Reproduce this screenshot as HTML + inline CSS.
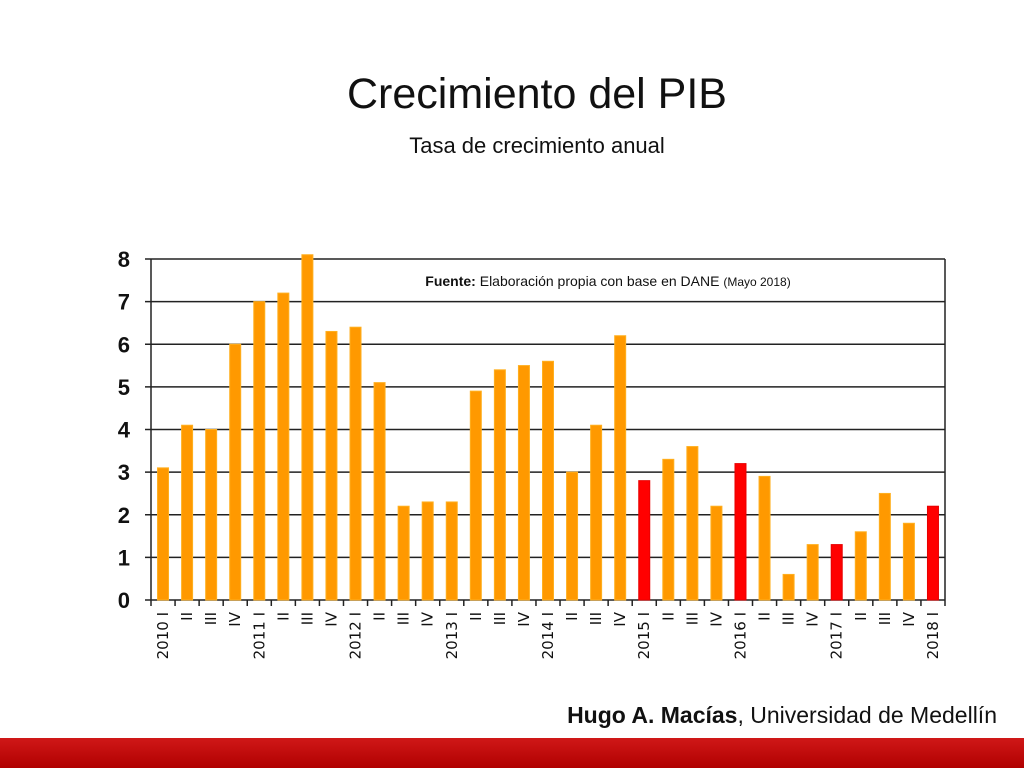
<!DOCTYPE html>
<html><head><meta charset="utf-8">
<style>
body{margin:0;width:1024px;height:768px;background:#fff;overflow:hidden;position:relative;font-family:"Liberation Sans",sans-serif}
.t{position:absolute;left:0;width:1074px;text-align:center;color:#111}
</style></head><body>
<div class="t" style="top:70px;font-size:43px;">Crecimiento del PIB</div>
<div class="t" style="top:133px;font-size:22px;">Tasa de crecimiento anual</div>
<svg id="c" width="1024" height="768" style="position:absolute;left:0;top:0"></svg>
<div style="position:absolute;right:27px;top:702px;font-size:23px;color:#111"><b>Hugo A. Macías</b>, Universidad de Medellín</div>
<div style="position:absolute;left:0;top:738px;width:1024px;height:30px;background:linear-gradient(#d01818,#b00000)"></div>
<script>
const categories=["2010 I","II","III","IV","2011 I","II","III","IV","2012 I","II","III","IV","2013 I","II","III","IV","2014 I","II","III","IV","2015 I","II","III","IV","2016 I","II","III","IV","2017 I","II","III","IV","2018 I"];
const values=[3.1,4.1,4.0,6.0,7.0,7.2,8.1,6.3,6.4,5.1,2.2,2.3,2.3,4.9,5.4,5.5,5.6,3.0,4.1,6.2,2.8,3.3,3.6,2.2,3.2,2.9,0.6,1.3,1.3,1.6,2.5,1.8,2.2];
const highlighted=[20,24,28,32];
const yTicks=[0,1,2,3,4,5,6,7,8];
const NS="http://www.w3.org/2000/svg",svg=document.getElementById('c');
const X0=151,X1=945,Y0=600,Y8=259;
const bw=(X1-X0)/categories.length;
const y=v=>Y0-(v/8)*(Y0-Y8);
const xc=i=>X0+bw*(i+0.5);
function mk(t,a){const e=document.createElementNS(NS,t);for(const k in a)e.setAttribute(k,a[k]);svg.appendChild(e);return e;}
yTicks.forEach(v=>{
 const g=mk('line',{x1:X0-6,x2:X1,y1:y(v),y2:y(v),stroke:'#222','stroke-width':1.5});
 
 
 const t=mk('text',{x:130,y:y(v)+8,'text-anchor':'end','font-size':22,'font-weight':'bold',fill:'#111'});
 t.textContent=v;
 
 
});
const ax=mk('line',{x1:X0,x2:X0,y1:Y8,y2:Y0,stroke:'#222','stroke-width':1.5});


const ax2=mk('line',{x1:X1,x2:X1,y1:Y8,y2:Y0+6,stroke:'#222','stroke-width':1.5});


categories.forEach((c,i)=>{
 const tk=mk('line',{x1:X0+bw*i,x2:X0+bw*i,y1:Y0,y2:Y0+6,stroke:'#222','stroke-width':1.5});
 
 
 const r=mk('rect',{x:xc(i)-5.5,y:y(values[i]),width:11,height:Y0-y(values[i]),fill:highlighted.includes(i)?'#ff0000':'#ff9900',stroke:highlighted.includes(i)?'#e80000':'#ffb020','stroke-width':1});
 
 
 const t=mk('text',{x:0,y:0,'text-anchor':'end','font-size':15,'font-family':'DejaVu Sans, sans-serif',fill:'#111',transform:`translate(${xc(i)+5},${Y0+12}) rotate(-90)`});
 t.textContent=c;
 
 
});
const f=mk('text',{x:608,y:286,'text-anchor':'middle','font-size':14,fill:'#111'});
f.innerHTML='<tspan font-weight="bold">Fuente:</tspan> Elaboración propia con base en DANE <tspan font-size="12">(Mayo 2018)</tspan>';


</script>
</body></html>
